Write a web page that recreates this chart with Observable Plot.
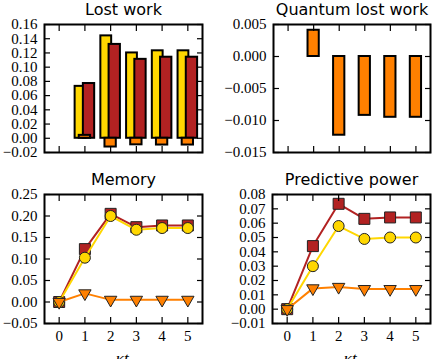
<!DOCTYPE html>
<html><head><meta charset="utf-8">
<script src="https://cdn.jsdelivr.net/npm/d3@7"></script>
<script src="https://cdn.jsdelivr.net/npm/@observablehq/plot@0.6"></script>
<style>
html,body{margin:0;padding:0;background:#fff;overflow:hidden}
#wrap{position:relative;width:442px;height:359px;overflow:hidden}
#wrap>svg{position:absolute;overflow:visible;background:transparent}
</style></head><body><div id="wrap"></div>
<script>
// ---- data ----
const steps = [0, 1, 2, 3, 4, 5];
const xTickLabels = ["0", "1", "2", "3", "4", "5"];
const xAxisLabel = "κtᵢ";
const titles = ["Lost work", "Quantum lost work", "Memory", "Predictive power"];

const lostWorkYellow = [0, 0.073, 0.144, 0.120, 0.123, 0.123];
const lostWorkRed    = [0, 0.077, 0.132, 0.111, 0.114, 0.114];
const quantumLostWork = [0, 0.0041, -0.0123, -0.0092, -0.0095, -0.0095];

const memoryRed    = [0, 0.123, 0.205, 0.174, 0.178, 0.178];
const memoryYellow = [0, 0.103, 0.200, 0.168, 0.172, 0.172];
const memoryOrange = [0, 0.020, 0.005, 0.005, 0.005, 0.005];

const predRed    = [0, 0.044, 0.0735, 0.063, 0.064, 0.064];
const predYellow = [0, 0.030, 0.058, 0.049, 0.050, 0.050];
const predOrange = [0, 0.0145, 0.0155, 0.014, 0.014, 0.014];

const yTicksLW = [-0.02, 0, 0.02, 0.04, 0.06, 0.08, 0.10, 0.12, 0.14, 0.16];
const yTicksQ  = [-0.015, -0.010, -0.005, 0, 0.005];
const yTicksM  = [-0.05, 0, 0.05, 0.10, 0.15, 0.20, 0.25];
const yTicksP  = [-0.01, 0, 0.01, 0.02, 0.03, 0.04, 0.05, 0.06, 0.07, 0.08];

// ---- style ----
const YELLOW = "#FFD700", RED = "#B22222", ORANGE = "#FF8000";
const SERIF = "Liberation Serif";
const table = (vals) => steps.map((s, i) => ({x: s, v: vals[i]}));

function panel(o) {
  const tk = {label: null, strokeWidth: 1.2, tickSize: 6, tickFormat: () => ""};
  const marks = [
    ...o.marks,
    Plot.frame({stroke: "black", strokeWidth: 2}),
    Plot.axisY({ticks: o.yTicks, label: null, tickSize: 0, tickPadding: 7, tickFormat: d3.format(o.yFmt), anchor: "left", fontFamily: SERIF, fontSize: 15}),
    Plot.axisY({...tk, ticks: o.yTicks, anchor: "left", dx: 6}),
    Plot.axisY({...tk, ticks: o.yTicks, anchor: "right", dx: -6}),
    Plot.axisX({...tk, ticks: steps, anchor: "top", dy: 6}),
    Plot.axisX({...tk, ticks: steps, anchor: "bottom", dy: -6}),
    Plot.text([o.title], {frameAnchor: "top", lineAnchor: "bottom", dy: -10, fontFamily: "DejaVu Sans", fontSize: 16, fill: "black"})
  ];
  if (o.xLabels) {
    marks.push(Plot.axisX({ticks: steps, label: null, tickSize: 0, tickPadding: 7, tickFormat: (d, i) => xTickLabels[i], anchor: "bottom", fontFamily: SERIF, fontSize: 15}));
    marks.push(Plot.text([xAxisLabel], {frameAnchor: "bottom", lineAnchor: "bottom", dy: 40, fontFamily: SERIF, fontStyle: "italic", fontSize: 17, fill: "black"}));
  }
  const svg = Plot.plot({
    width: o.w, height: o.h,
    marginLeft: o.ml, marginRight: o.mr, marginTop: o.mt, marginBottom: o.mb,
    style: {fontFamily: SERIF, fontSize: "15px", background: "transparent", overflow: "visible", color: "black"},
    x: {domain: [-0.57, 5.57], axis: null},
    y: {domain: o.yDomain, axis: null},
    marks
  });
  svg.style.left = o.left + "px";
  svg.style.top = o.top + "px";
  document.getElementById("wrap").appendChild(svg);
}

const lw = steps.map((s, i) => ({x: s, y: lostWorkYellow[i], r: lostWorkRed[i], q: quantumLostWork[i]}));

panel({
  left: 0, top: 0, w: 221, h: 170, ml: 44, mr: 19, mt: 24, mb: 18,
  yDomain: [-0.02, 0.16], yTicks: yTicksLW, yFmt: ".2f", title: titles[0],
  marks: [
    Plot.rectY(lw, {x1: d => d.x - 0.38, x2: d => d.x + 0.04, y1: 0, y2: "y", fill: YELLOW, stroke: "black", strokeWidth: 2}),
    Plot.rectY(lw, {x1: d => d.x - 0.06, x2: d => d.x + 0.38, y1: 0, y2: "r", fill: RED, stroke: "black", strokeWidth: 2}),
    Plot.rectY(lw.filter(d => d.x > 0), {x1: d => d.x - 0.22, x2: d => d.x + 0.22, y1: 0, y2: "q", fill: ORANGE, stroke: "black", strokeWidth: 2})
  ]
});

panel({
  left: 221, top: 0, w: 221, h: 170, ml: 52, mr: 12, mt: 24, mb: 18,
  yDomain: [-0.015, 0.005], yTicks: yTicksQ, yFmt: ".3f", title: titles[1],
  marks: [
    Plot.rectY(lw, {x1: d => d.x - 0.22, x2: d => d.x + 0.22, y1: 0, y2: "q", fill: ORANGE, stroke: "black", strokeWidth: 2})
  ]
});

function lineSeries(vals, color, symbol, r, rotate) {
  const t = table(vals);
  return [
    Plot.line(t, {x: "x", y: "v", stroke: color, strokeWidth: 2}),
    Plot.dot(t, {x: "x", y: "v", fill: color, stroke: "#222", strokeWidth: 1, symbol, r, rotate})
  ];
}

panel({
  left: 0, top: 170, w: 221, h: 189, ml: 44, mr: 19, mt: 24, mb: 36,
  yDomain: [-0.05, 0.25], yTicks: yTicksM, yFmt: ".2f", title: titles[2], xLabels: true,
  marks: [
    ...lineSeries(memoryRed, RED, "square", 6.2, 0),
    ...lineSeries(memoryYellow, YELLOW, "circle", 5.5, 0),
    ...lineSeries(memoryOrange, ORANGE, "triangle", 4.6, 180)
  ]
});

panel({
  left: 221, top: 170, w: 221, h: 189, ml: 51, mr: 12, mt: 24, mb: 36,
  yDomain: [-0.01, 0.08], yTicks: yTicksP, yFmt: ".2f", title: titles[3], xLabels: true,
  marks: [
    ...lineSeries(predRed, RED, "square", 6.2, 0),
    ...lineSeries(predYellow, YELLOW, "circle", 5.5, 0),
    ...lineSeries(predOrange, ORANGE, "triangle", 4.6, 180)
  ]
});
</script></body></html>
